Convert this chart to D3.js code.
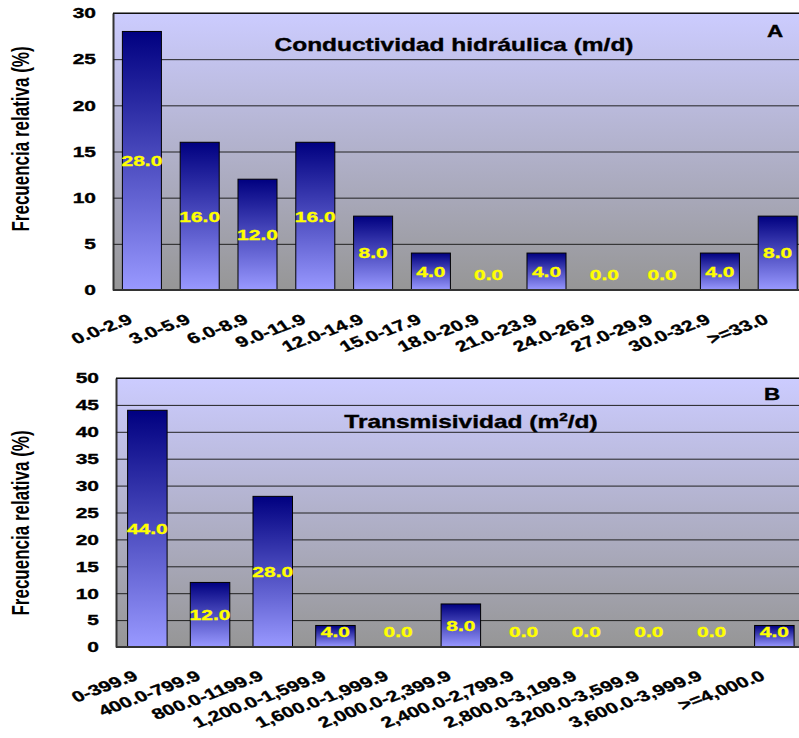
<!DOCTYPE html>
<html><head><meta charset="utf-8">
<script src="https://cdn.jsdelivr.net/npm/d3@7"></script>
<style>body{margin:0;background:#fff}svg{display:block}text{font-family:"Liberation Sans",Arial,sans-serif}</style>
</head><body>
<script>
const catsA = ["0.0-2.9","3.0-5.9","6.0-8.9","9.0-11.9","12.0-14.9","15.0-17.9","18.0-20.9","21.0-23.9","24.0-26.9","27.0-29.9","30.0-32.9",">=33.0"];
const valsA = [28,16,12,16,8,4,0,4,0,0,4,8];
const ticksA = [0,5,10,15,20,25,30];
const catsB = ["0-399.9","400.0-799.9","800.0-1199.9","1,200.0-1,599.9","1,600.0-1,999.9","2,000.0-2,399.9","2,400.0-2,799.9","2,800.0-3,199.9","3,200.0-3,599.9","3,600.0-3,999.9",">=4,000.0"];
const valsB = [44,12,28,4,0,8,0,0,0,0,4];
const ticksB = [0,5,10,15,20,25,30,35,40,45,50];

const S = 1.4; // horizontal stretch of text in the original
const svg = d3.select("body").append("svg").attr("width",799).attr("height",738);
svg.append("rect").attr("width",799).attr("height",738).attr("fill","#fff");
const defs = svg.append("defs");
const bg = defs.append("linearGradient").attr("id","bg").attr("x1",0).attr("y1",0).attr("x2",0).attr("y2",1);
bg.append("stop").attr("offset","0%").attr("stop-color","#ccccff");
bg.append("stop").attr("offset","100%").attr("stop-color","#969696");
const bar = defs.append("linearGradient").attr("id","bar").attr("x1",0).attr("y1",0).attr("x2",0).attr("y2",1);
bar.append("stop").attr("offset","0%").attr("stop-color","#000080");
bar.append("stop").attr("offset","100%").attr("stop-color","#9999ff");

function heavy(sel, col){ return sel.attr("stroke", col).attr("stroke-width",0.35); }

function panel(cfg){
  const {cats, vals, ticks, left, top, w, h, pad, title, letter, titleX, titleY, letterX, letterY, ylabY, xlabY} = cfg;
  const g = svg.append("g").attr("transform",`translate(${left},${top})`);
  const x = d3.scaleBand().domain(cats).range([0,w]).paddingInner(pad).paddingOuter(pad/2);
  const y = d3.scaleLinear().domain([0, d3.max(ticks)]).range([h,0]);
  g.append("rect").attr("width",w).attr("height",h).attr("fill","url(#bg)");
  const ya = g.append("g").call(d3.axisLeft(y).tickValues(ticks).tickSize(-w).tickSizeOuter(0).tickPadding(17/S));
  ya.select(".domain").attr("stroke","#333").attr("stroke-width",2);
  ya.selectAll(".tick line").attr("stroke","#222").attr("stroke-width",1);
  heavy(ya.selectAll(".tick text").attr("fill","#000").attr("font-size",15).attr("font-weight","bold")
    .attr("transform",`scale(${S},1)`), "#000");
  g.append("line").attr("x1",0).attr("x2",w).attr("y1",0).attr("y2",0).attr("stroke","#000");
  g.selectAll("rect.bar").data(vals.map((v,i)=>({c:cats[i],v}))).enter().filter(d=>d.v>0)
    .append("rect").attr("class","bar")
    .attr("x",d=>x(d.c)).attr("width",x.bandwidth())
    .attr("y",d=>y(d.v)).attr("height",d=>h-y(d.v))
    .attr("fill","url(#bar)").attr("stroke","#000").attr("stroke-width",1);
  g.append("line").attr("x1",0).attr("x2",w).attr("y1",h).attr("y2",h).attr("stroke","#333").attr("stroke-width",2);
  heavy(g.selectAll("text.val").data(vals.map((v,i)=>({c:cats[i],v}))).enter().append("text").attr("class","val")
    .attr("transform",d=>`translate(${x(d.c)+x.bandwidth()/2},${Math.min((y(d.v)+h)/2, h-15)}) scale(${S},1)`)
    .attr("text-anchor","middle").attr("dy","0.36em").attr("fill","#ffff00")
    .attr("font-size",15).attr("font-weight","bold").text(d=>d.v.toFixed(1)), "#ffff00");
  const xa = g.append("g").attr("transform",`translate(0,${h})`).call(d3.axisBottom(x).tickSize(0));
  xa.select(".domain").remove();
  heavy(xa.selectAll(".tick text").attr("y",null).attr("dy",null).attr("text-anchor","end")
    .attr("fill","#000").attr("font-size",15).attr("font-weight","bold")
    .attr("transform",`translate(-8,${xlabY}) scale(${S},1) rotate(-28)`), "#000");
  const t = g.append("text").attr("transform",`translate(${titleX},${titleY}) scale(${S},1)`)
    .attr("text-anchor","middle").attr("font-size",17.5).attr("font-weight","bold").attr("fill","#000");
  heavy(t, "#000");
  title(t);
  heavy(g.append("text").attr("transform",`translate(${letterX},${letterY}) scale(${S},1)`)
    .attr("text-anchor","middle").attr("font-size",16).attr("font-weight","bold").text(letter), "#000");
  svg.append("text").attr("transform",`translate(29,${ylabY}) scale(${S},1) rotate(-90)`)
    .attr("text-anchor","middle").attr("font-size",17).attr("font-weight","bold").text("Frecuencia relativa (%)");
}

panel({cats:catsA, vals:valsA, ticks:ticksA, left:113, top:13, w:12*57.8, h:277, pad:0.325,
  title:t=>t.text("Conductividad hidráulica (m/d)"), letter:"A",
  titleX:341, titleY:38, letterX:662, letterY:24, ylabY:139, xlabY:32.5});
panel({cats:catsB, vals:valsB, ticks:ticksB, left:116, top:378, w:11*62.7, h:269, pad:0.37,
  title:t=>{t.append("tspan").text("Transmisividad (m");
            t.append("tspan").attr("font-size",11).attr("dy",-7).text("2");
            t.append("tspan").attr("dy",7).text("/d)");},
  letter:"B", titleX:355, titleY:50, letterX:656, letterY:22, ylabY:523, xlabY:32});
</script>
</body></html>
